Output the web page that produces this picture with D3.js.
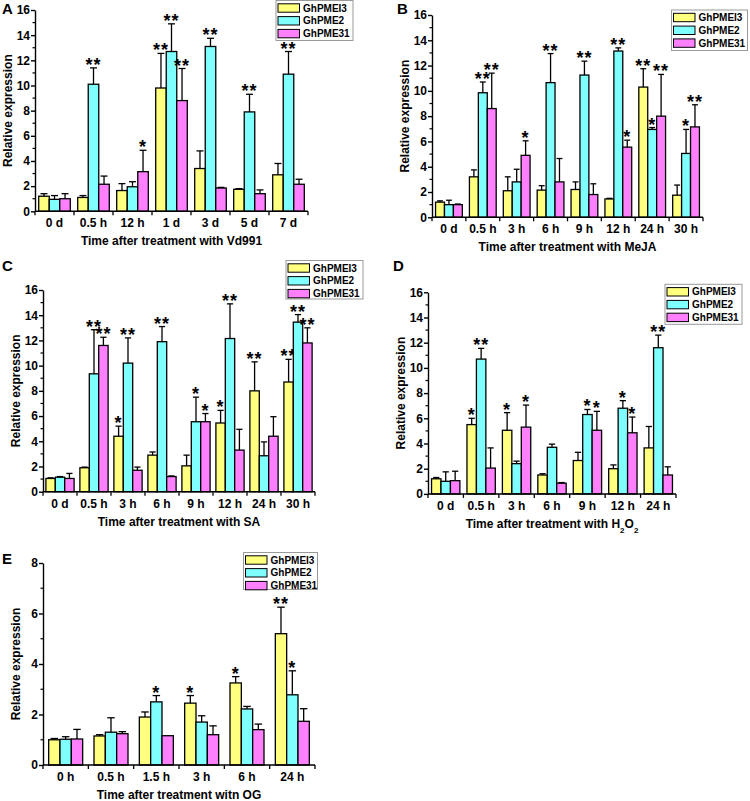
<!DOCTYPE html>
<html><head><meta charset="utf-8">
<script src="https://cdn.jsdelivr.net/npm/d3@7"></script>
<style>
body{margin:0;background:#fff}
svg{display:block}
text{font-family:"Liberation Sans",Arial,sans-serif;font-weight:bold;fill:#000}
</style></head><body>
<svg id="c" width="750" height="801"></svg>
<script>
const seriesNames = ["GhPMEI3","GhPME2","GhPME31"];
const seriesColors = ["#FFFF80","#80FFFF","#FF80FF"];

// Panel A – Vd991
const catsA = ["0 d","0.5 h","12 h","1 d","3 d","5 d","7 d"];
const yelA = [1.2, 1.1, 1.65, 9.8, 3.4, 1.75, 2.9];
const yelErrA = [0.2, 0.15, 0.55, 2.75, 1.4, 0.05, 0.9];
const cyaA = [0.95, 10.1, 1.95, 12.7, 13.1, 7.9, 10.9];
const cyaErrA = [0.3, 1.3, 0.4, 2.2, 0.65, 1.4, 1.8];
const magA = [1.0, 2.15, 3.15, 8.8, 1.85, 1.4, 2.15];
const magErrA = [0.4, 0.65, 1.7, 2.55, 0.05, 0.3, 0.4];
const yelSigA = ["","","","**","","",""];
const cyaSigA = ["","**","","**","**","**","**"];
const magSigA = ["","","*","**","","",""];

// Panel B – MeJA
const catsB = ["0 d","0.5 h","3 h","6 h","9 h","12 h","24 h","30 h"];
const yelB = [1.2, 3.2, 2.1, 2.15, 2.2, 1.45, 10.3, 1.75];
const yelErrB = [0.1, 0.55, 1.1, 0.35, 0.6, 0.05, 1.45, 0.8];
const cyaB = [1.0, 9.85, 2.8, 10.65, 11.25, 13.15, 6.95, 5.05];
const cyaErrB = [0.35, 0.85, 1.0, 2.3, 1.1, 0.25, 0.15, 1.9];
const magB = [1.0, 8.6, 4.9, 2.8, 1.8, 5.55, 8.0, 7.15];
const magErrB = [0.05, 2.8, 1.15, 1.85, 0.85, 0.55, 3.3, 1.75];
const yelSigB = ["","","","","","","**",""];
const cyaSigB = ["","**","","**","**","**","*","*"];
const magSigB = ["","**","*","","","*","**","**"];

// Panel C – SA
const catsC = ["0 d","0.5 h","3 h","6 h","9 h","12 h","24 h","30 h"];
const yelC = [1.05, 1.9, 4.4, 2.9, 2.05, 5.45, 8.0, 8.7];
const yelErrC = [0.05, 0.05, 0.8, 0.25, 0.85, 1.0, 2.3, 1.8];
const cyaC = [1.15, 9.35, 10.2, 11.9, 5.55, 12.15, 2.85, 13.45];
const cyaErrC = [0.05, 3.5, 2.0, 1.2, 1.95, 2.75, 1.1, 0.6];
const magC = [1.05, 11.6, 1.7, 1.2, 5.55, 3.3, 4.4, 11.8];
const magErrC = [0.4, 0.65, 0.25, 0.05, 0.65, 1.65, 1.55, 1.2];
const yelSigC = ["","","*","","","*","**","**"];
const cyaSigC = ["","**","**","**","*","**","","**"];
const magSigC = ["","**","","","*","","","**"];

// Panel D – H2O2
const catsD = ["0 d","0.5 h","3 h","6 h","9 h","12 h","24 h"];
const yelD = [1.2, 5.5, 5.05, 1.5, 2.65, 2.0, 3.65];
const yelErrD = [0.1, 0.5, 1.4, 0.1, 0.65, 0.3, 1.7];
const cyaD = [1.0, 10.7, 2.4, 3.7, 6.3, 6.8, 11.6];
const cyaErrD = [0.75, 0.85, 0.2, 0.25, 0.4, 0.6, 1.0];
const magD = [1.05, 2.05, 5.3, 0.85, 5.05, 4.85, 1.5];
const magErrD = [0.75, 1.6, 1.75, 0.05, 1.5, 1.25, 0.65];
const yelSigD = ["","*","*","","","",""];
const cyaSigD = ["","**","","","*","*","**"];
const magSigD = ["","","*","","*","*",""];

// Panel E – OG
const catsE = ["0 h","0.5 h","1.5 h","3 h","6 h","24 h"];
const yelE = [1.0, 1.15, 1.9, 2.45, 3.25, 5.2];
const yelErrE = [0.05, 0.05, 0.2, 0.3, 0.25, 1.05];
const cyaE = [1.02, 1.3, 2.5, 1.7, 2.22, 2.78];
const cyaErrE = [0.1, 0.57, 0.25, 0.25, 0.1, 0.95];
const magE = [1.03, 1.24, 1.16, 1.2, 1.4, 1.73];
const magErrE = [0.38, 0.08, 0, 0.35, 0.22, 0.5];
const yelSigE = ["","","","*","*","**"];
const cyaSigE = ["","","*","","","*"];
const magSigE = ["","","","","",""];

const yLabel = "Relative expression";

const svg = d3.select("#c");

function panel(p){
  const g = svg.append("g");
  const x = d3.scaleBand().domain(p.cats).range([p.left,p.right]).paddingInner(p.pad).paddingOuter(p.pad/2);
  const xs = d3.scaleBand().domain([0,1,2]).range([0,x.bandwidth()]);
  const y = d3.scaleLinear().domain([0,p.ymax]).range([p.bottom,p.top]);
  const vals = [p.yel,p.cya,p.mag], errs=[p.yelErr,p.cyaErr,p.magErr], sigs=[p.yelSig,p.cyaSig,p.magSig];
  vals.forEach((vs,s)=>{
    vs.forEach((v,i)=>{
      const bx = x(p.cats[i]) + xs(s), bw = xs.bandwidth(), cx = bx+bw/2;
      const e = errs[s][i];
      g.append("rect").attr("x",bx).attr("y",y(v)).attr("width",bw).attr("height",y(0)-y(v))
        .attr("fill",seriesColors[s]).attr("stroke","#000").attr("stroke-width",1.3);
      const top = y(v+e);
      if(e>0){
        g.append("line").attr("x1",cx).attr("x2",cx).attr("y1",y(v)).attr("y2",top).attr("stroke","#000").attr("stroke-width",1.3);
        g.append("line").attr("x1",cx-bw*0.33).attr("x2",cx+bw*0.33).attr("y1",top).attr("y2",top).attr("stroke","#000").attr("stroke-width",1.3);
      }
      if(sigs[s][i]){
        g.append("text").attr("x",cx).attr("y",top+3).attr("text-anchor","middle")
          .style("font-size","18px").style("letter-spacing","1px").text(sigs[s][i]);
      }
    });
  });
  // y axis
  const ya = g.append("g").attr("transform",`translate(${p.left},0)`)
    .call(d3.axisLeft(y).tickValues(d3.range(0,p.ymax+0.01,p.major)).tickSize(4).tickSizeOuter(0).tickPadding(1).tickFormat(d3.format("d")));
  ya.selectAll("text").style("font-size","12px").style("font-family","'Liberation Sans',Arial,sans-serif").style("font-weight","bold");
  ya.selectAll("line,path").attr("stroke","#000").attr("stroke-width",1.4);
  g.append("g").selectAll("line").data(d3.range(p.major/2,p.ymax,p.major)).join("line")
    .attr("x1",p.left-2.5).attr("x2",p.left).attr("y1",d=>y(d)).attr("y2",d=>y(d)).attr("stroke","#000").attr("stroke-width",1.2);
  // x axis
  g.append("line").attr("x1",p.left).attr("x2",p.right).attr("y1",p.bottom).attr("y2",p.bottom).attr("stroke","#000").attr("stroke-width",1.5);
  const step = x.step();
  g.append("g").selectAll("line").data(d3.range(0,p.cats.length+1)).join("line")
    .attr("x1",d=>p.left+d*step).attr("x2",d=>p.left+d*step).attr("y1",p.bottom).attr("y2",p.bottom+4).attr("stroke","#000").attr("stroke-width",1.3);
  g.append("g").selectAll("text").data(p.cats).join("text")
    .attr("x",d=>x(d)+x.bandwidth()/2).attr("y",p.bottom+16).attr("text-anchor","middle").style("font-size","12px").text(d=>d);
  // x title
  const xt = g.append("text").attr("x",(p.left+p.right)/2).attr("y",p.bottom+34).attr("text-anchor","middle").style("font-size","12px");
  p.title.forEach(part=>{
    const t = xt.append("tspan").text(part[0]);
    if(part[1]) t.attr("baseline-shift","sub").style("font-size","8px");
  });
  // y title
  g.append("text").attr("transform",`translate(${p.left-27},${(p.top+p.bottom)/2}) rotate(-90)`)
    .attr("text-anchor","middle").attr("dy","0.35em").style("font-size","12px").text(yLabel);
  // letter
  g.append("text").attr("x",p.letterX).attr("y",p.letterY).style("font-size","15px").text(p.letter);
  // legend
  const L = p.legend;
  g.append("rect").attr("x",L.x).attr("y",L.y).attr("width",L.w).attr("height",L.h).attr("fill","#fff").attr("stroke","#999").attr("stroke-width",1);
  seriesNames.forEach((n,i)=>{
    const cy = L.y + 7.5 + i*12.8;
    g.append("rect").attr("x",L.x+2).attr("y",cy-4.2).attr("width",21.5).attr("height",8.4).attr("fill",seriesColors[i]).attr("stroke","#000").attr("stroke-width",1);
    g.append("text").attr("x",L.x+27).attr("y",cy+3.6).style("font-size","10px").text(n);
  });
}

panel({cats:catsA,yel:yelA,yelErr:yelErrA,cya:cyaA,cyaErr:cyaErrA,mag:magA,magErr:magErrA,
  yelSig:yelSigA,cyaSig:cyaSigA,magSig:magSigA,left:35,right:308,top:10,bottom:211.3,ymax:16,major:2,pad:0.19,
  title:[["Time after treatment with Vd991"]],letter:"A",letterX:2,letterY:14,legend:{x:276,y:0.5,w:77,h:40}});
panel({cats:catsB,yel:yelB,yelErr:yelErrB,cya:cyaB,cyaErr:cyaErrB,mag:magB,magErr:magErrB,
  yelSig:yelSigB,cyaSig:cyaSigB,magSig:magSigB,left:432,right:703,top:15,bottom:217.3,ymax:16,major:2,pad:0.21,
  title:[["Time after treatment with MeJA"]],letter:"B",letterX:397,letterY:14,legend:{x:671.5,y:10,w:76,h:40.5}});
panel({cats:catsC,yel:yelC,yelErr:yelErrC,cya:cyaC,cyaErr:cyaErrC,mag:magC,magErr:magErrC,
  yelSig:yelSigC,cyaSig:cyaSigC,magSig:magSigC,left:43,right:315,top:290,bottom:491.7,ymax:16,major:2,pad:0.17,
  title:[["Time after treatment with SA"]],letter:"C",letterX:2,letterY:271,legend:{x:286,y:260.5,w:77,h:38.5}});
panel({cats:catsD,yel:yelD,yelErr:yelErrD,cya:cyaD,cyaErr:cyaErrD,mag:magD,magErr:magErrD,
  yelSig:yelSigD,cyaSig:cyaSigD,magSig:magSigD,left:428,right:676,top:292.3,bottom:493.9,ymax:16,major:2,pad:0.2,
  title:[["Time after treatment with H"],["2",true],["O"],["2",true]],letter:"D",letterX:393,letterY:271,legend:{x:665,y:284.3,w:77,h:40}});
panel({cats:catsE,yel:yelE,yelErr:yelErrE,cya:cyaE,cyaErr:cyaErrE,mag:magE,magErr:magErrE,
  yelSig:yelSigE,cyaSig:cyaSigE,magSig:magSigE,left:43,right:315,top:563,bottom:765,ymax:8,major:2,pad:0.25,
  title:[["Time after treatment witn OG"]],letter:"E",letterX:2,letterY:564,legend:{x:243.5,y:552.5,w:74,h:37}});
</script>
</body></html>
